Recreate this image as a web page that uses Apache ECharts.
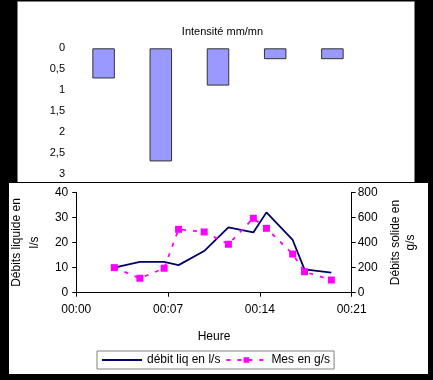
<!DOCTYPE html>
<html>
<head>
<meta charset="utf-8">
<script src="https://cdn.jsdelivr.net/npm/echarts@6/dist/echarts.min.js"></script>
<style>html,body{margin:0;padding:0;background:#000;}#c{width:433px;height:380px;}</style>
</head>
<body>
<div id="c"></div>
<script>
// Top chart: rainfall intensity
const intensCategories = ['1', '2', '3', '4', '5'];
const intensValues = [0.72, 2.7, 0.89, 0.26, 0.26];
// Bottom chart: time in minutes
const times = [2.9, 4.85, 6.7, 7.8, 9.75, 11.6, 13.5, 14.5, 16.5, 17.4, 19.45];
const debitLiq = [10, 12.3, 12.3, 11, 16.6, 26, 24, 32, 21, 9.3, 8];
const mesGs = [200, 115, 195, 505, 484, 386, 593, 513, 308, 167, 101];

const FONT = 'Liberation Sans, Arial, sans-serif';
const chart = echarts.init(document.getElementById('c'), null, {renderer: 'canvas'});
const pad = n => (n < 10 ? '0' : '') + n;

chart.setOption({
  backgroundColor: '#000',
  animation: false,
  textStyle: {fontFamily: FONT, color: '#000'},
  graphic: [
    {type: 'rect', z: -10, shape: {x: 17.5, y: 1.5, width: 397, height: 190}, style: {fill: '#fff', stroke: '#808080', lineWidth: 1}},
    {type: 'rect', z: -9, shape: {x: 8.5, y: 182.5, width: 420, height: 192}, style: {fill: '#fff', stroke: '#000', lineWidth: 1}}
  ],
  title: {
    text: 'Intensité mm/mn', left: 217.5, top: 21, textAlign: 'center',
    textStyle: {fontFamily: FONT, fontSize: 11, fontWeight: 'normal', color: '#000'}
  },
  legend: {
    left: 97, top: 351,
    data: [
      {name: 'débit liq en l/s', itemStyle: {opacity: 0}},
      {name: 'Mes en g/s'}
    ],
    borderColor: '#808080', borderWidth: 1, padding: [3, 4],
    itemWidth: 40, itemHeight: 7, itemGap: 5,
    textStyle: {fontFamily: FONT, fontSize: 12, color: '#000'}
  },
  grid: [
    {left: 75, right: 72, top: 48.3, height: 125.7},
    {left: 65, right: 81.3, top: 192.3, height: 100.4}
  ],
  xAxis: [
    {gridIndex: 0, type: 'category', data: intensCategories, show: false},
    {
      gridIndex: 1, type: 'value', min: 0, max: 21, interval: 7,
      name: 'Heure', nameLocation: 'middle', nameGap: 38,
      nameTextStyle: {fontFamily: FONT, fontSize: 12, color: '#000'},
      axisLine: {show: true, lineStyle: {color: '#000', width: 1}},
      axisTick: {show: true, length: 4, lineStyle: {color: '#000'}},
      splitLine: {show: false},
      axisLabel: {margin: 11, fontFamily: FONT, fontSize: 12, color: '#000', formatter: v => '00:' + pad(v)}
    }
  ],
  yAxis: [
    {
      gridIndex: 0, type: 'value', inverse: true, min: 0, max: 3, interval: 0.5,
      axisLine: {show: false}, axisTick: {show: false}, splitLine: {show: false},
      axisLabel: {margin: 10, fontFamily: FONT, fontSize: 11, color: '#000', formatter: v => String(v).replace('.', ',')}
    },
    {
      gridIndex: 1, type: 'value', min: 0, max: 40, interval: 10, position: 'left',
      name: 'Débits liquide en\nl/s', nameLocation: 'middle', nameGap: 30, nameRotate: 90,
      nameTextStyle: {fontFamily: FONT, fontSize: 12, color: '#000', lineHeight: 18},
      axisLine: {show: true, lineStyle: {color: '#000', width: 1}},
      axisTick: {show: true, length: 4, lineStyle: {color: '#000'}},
      splitLine: {show: false},
      axisLabel: {margin: 8, fontFamily: FONT, fontSize: 12, color: '#000'}
    },
    {
      gridIndex: 1, type: 'value', min: 0, max: 800, interval: 200, position: 'right',
      name: 'Débits solide en\ng/s', nameLocation: 'middle', nameGap: 34, nameRotate: 90,
      nameTextStyle: {fontFamily: FONT, fontSize: 12, color: '#000', lineHeight: 15},
      axisLine: {show: true, lineStyle: {color: '#000', width: 1}},
      axisTick: {show: true, length: 4, lineStyle: {color: '#000'}},
      splitLine: {show: false},
      axisLabel: {margin: 6, fontFamily: FONT, fontSize: 12, color: '#000'}
    }
  ],
  series: [
    {
      type: 'bar', xAxisIndex: 0, yAxisIndex: 0, data: intensValues, barWidth: 22.5,
      itemStyle: {color: '#9999FF', borderColor: '#333', borderWidth: 1}
    },
    {
      name: 'débit liq en l/s', type: 'line', xAxisIndex: 1, yAxisIndex: 1,
      data: times.map((t, i) => [t, debitLiq[i]]),
      showSymbol: false, symbol: 'none',
      lineStyle: {color: '#000066', width: 1.8}, itemStyle: {color: '#000066'}
    },
    {
      name: 'Mes en g/s', type: 'line', xAxisIndex: 1, yAxisIndex: 2,
      data: times.map((t, i) => [t, mesGs[i]]),
      symbol: 'rect', symbolSize: 7,
      lineStyle: {color: '#FF00FF', width: 1.8, type: [4, 7]}, itemStyle: {color: '#FF00FF'}
    }
  ]
});
</script>
</body>
</html>
